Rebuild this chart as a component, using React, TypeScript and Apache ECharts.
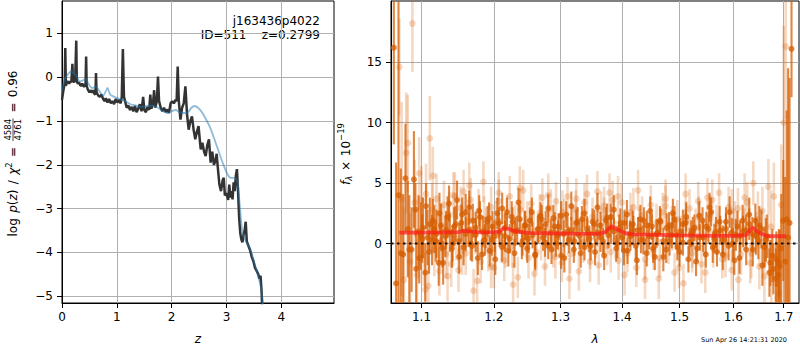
import React, { useEffect, useRef } from 'react';
import * as echarts from 'echarts';

// ---------- left panel: log p(z) ----------
const zDark = [0.00,0.02,0.04,0.05,0.06,0.07,0.09,0.11,0.13,0.15,0.17,0.19,0.20,0.22,0.24,0.26,0.27,0.29,0.31,0.33,0.35,0.37,0.39,0.41,0.43,0.44,0.45,0.47,0.50,0.52,0.55,0.57,0.59,0.61,0.62,0.63,0.66,0.69,0.72,0.75,0.78,0.80,0.83,0.86,0.89,0.92,0.95,0.98,1.01,1.04,1.07,1.09,1.11,1.13,1.15,1.18,1.21,1.24,1.27,1.30,1.33,1.36,1.39,1.42,1.45,1.48,1.50,1.53,1.56,1.59,1.61,1.63,1.66,1.68,1.70,1.73,1.75,1.77,1.80,1.83,1.86,1.89,1.92,1.95,1.98,2.01,2.04,2.07,2.09,2.11,2.13,2.16,2.19,2.22,2.25,2.28,2.31,2.34,2.37,2.40,2.43,2.46,2.49,2.51,2.53,2.56,2.59,2.62,2.65,2.68,2.71,2.74,2.77,2.80,2.82,2.84,2.87,2.90,2.93,2.95,2.97,3.00,3.03,3.05,3.07,3.09,3.11,3.13,3.15,3.17,3.19,3.21,3.23,3.25,3.27,3.29,3.31,3.33,3.35,3.37,3.40,3.43,3.46,3.49,3.52,3.55,3.58,3.60,3.62,3.64,3.66];
const lpDark = [-0.52,-0.35,-0.2,-0.15,0.66,-0.2,-0.12,-0.1,-0.15,-0.1,-0.12,0.30,-0.08,-0.12,-0.05,0.83,-0.1,-0.15,-0.12,-0.18,-0.2,-0.15,-0.2,-0.22,-0.15,0.47,-0.2,-0.28,-0.35,-0.3,-0.35,-0.3,-0.38,-0.4,0.09,-0.35,-0.42,-0.45,-0.4,-0.5,-0.55,-0.48,-0.58,-0.5,-0.6,-0.55,-0.62,-0.5,-0.58,-0.52,-0.6,-0.45,0.64,-0.45,-0.55,-0.7,-0.65,-0.75,-0.68,-0.78,-0.66,-0.8,-0.72,-0.62,-0.78,-0.45,-0.75,-0.8,-0.68,-0.75,-0.4,-0.72,-0.6,-0.3,-0.7,-0.55,0.01,-0.55,-0.7,-0.78,-0.7,-0.8,-0.74,-0.82,-0.6,-0.55,-0.6,-0.52,-0.55,0.24,-0.55,-0.97,-0.7,-0.6,-0.21,-0.85,-1.2,-1.0,-0.9,-1.2,-1.42,-1.25,-1.12,-1.4,-1.65,-1.5,-1.7,-1.8,-1.55,-1.42,-1.95,-1.7,-2.0,-1.9,-1.75,-2.05,-2.45,-2.6,-2.35,-2.3,-2.7,-2.65,-2.8,-2.45,-2.75,-2.6,-2.79,-2.4,-2.6,-2.25,-2.1,-2.6,-3.2,-3.55,-3.7,-3.77,-3.6,-3.5,-3.3,-3.75,-3.85,-3.95,-4.1,-4.2,-4.35,-4.42,-4.5,-4.6,-4.53,-4.9,-5.6];

const zSmooth = [0.00,0.05,0.10,0.17,0.22,0.27,0.32,0.37,0.43,0.48,0.55,0.62,0.68,0.75,0.80,0.83,0.88,0.95,1.05,1.15,1.25,1.35,1.45,1.55,1.65,1.75,1.85,1.92,2.00,2.07,2.14,2.22,2.30,2.36,2.42,2.48,2.55,2.62,2.69,2.76,2.83,2.90,2.96,3.02,3.08,3.15,3.20,3.24,3.28,3.32,3.38,3.44,3.50,3.56,3.62,3.67,3.72];
const lpSmooth = [-0.3,-0.05,0.05,0.13,0.08,0.02,-0.1,-0.08,-0.05,-0.15,-0.25,-0.22,-0.32,-0.42,-0.32,-0.25,-0.4,-0.45,-0.5,-0.55,-0.62,-0.65,-0.68,-0.66,-0.65,-0.7,-0.78,-0.82,-0.78,-0.75,-0.8,-0.82,-0.8,-0.7,-0.66,-0.7,-0.8,-0.95,-1.12,-1.35,-1.6,-1.85,-2.05,-2.22,-2.3,-2.3,-2.4,-2.9,-3.45,-3.65,-3.8,-3.95,-4.2,-4.45,-4.75,-5.2,-5.6];

const zTicks = [0, 1, 2, 3, 4];
const lpTicks = [-5, -4, -3, -2, -1, 0, 1];

// ---------- right panel: spectrum (beam A, dark) ----------
const darkLam = [1.064,1.067,1.070,1.073,1.076,1.079,1.082,1.084,1.087,1.090,1.093,1.096,1.099,1.102,1.105,1.108,1.111,1.114,1.117,1.120,1.123,1.126,1.129,1.132,1.135,1.138,1.141,1.144,1.148,1.151,1.154,1.157,1.160,1.164,1.167,1.170,1.174,1.177,1.180,1.184,1.187,1.191,1.194,1.198,1.201,1.205,1.208,1.212,1.216,1.219,1.223,1.227,1.230,1.234,1.238,1.242,1.245,1.249,1.253,1.257,1.261,1.265,1.269,1.273,1.277,1.281,1.285,1.289,1.293,1.297,1.301,1.305,1.309,1.313,1.317,1.321,1.325,1.330,1.334,1.338,1.342,1.346,1.351,1.355,1.359,1.364,1.368,1.373,1.377,1.381,1.386,1.390,1.395,1.400,1.404,1.409,1.413,1.418,1.423,1.427,1.432,1.437,1.442,1.446,1.451,1.456,1.461,1.466,1.471,1.476,1.481,1.486,1.491,1.496,1.501,1.506,1.511,1.516,1.521,1.527,1.532,1.537,1.542,1.548,1.553,1.558,1.564,1.569,1.575,1.580,1.586,1.591,1.597,1.602,1.608,1.613,1.619,1.625,1.631,1.637,1.643,1.649,1.655,1.661,1.667,1.673,1.679,1.685,1.689,1.692,1.695,1.699,1.703,1.706,1.709,1.712,1.716];
const darkFlux = [16.2,-3.3,4.0,-0.8,-0.9,5.4,1.2,-0.5,-0.5,5.3,-2.1,1.0,0.6,1.3,-2.4,0.5,1.6,0.3,1.2,0.8,-1.6,1.5,-1.6,0.6,2.2,0.9,-0.4,1.4,3.6,0.2,1.7,-0.3,2.6,1.1,0.0,1.9,0.7,-1.2,2.2,1.0,0.3,1.8,-0.6,1.4,0.6,2.5,0.9,-0.3,1.3,2.6,0.4,1.8,-0.8,1.1,2.0,0.2,1.5,-0.4,1.9,0.7,-0.9,1.2,2.3,0.5,1.6,-0.2,0.9,2.1,0.0,1.4,-1.0,0.8,2.4,0.3,1.1,-0.5,1.7,0.6,2.0,-0.3,1.2,0.4,1.8,-0.7,0.9,1.5,0.2,1.9,0.7,2.2,1.0,-0.4,1.3,0.5,1.7,-0.6,0.8,1.6,-0.2,1.1,0.3,1.9,-0.8,0.6,1.4,-1.1,0.9,1.8,0.2,-0.5,1.5,0.7,2.0,-0.3,1.0,0.1,1.7,-1.3,0.8,1.3,-0.4,0.5,1.9,-0.9,1.2,2.6,0.4,-0.7,1.1,0.3,1.8,-0.2,0.9,-1.4,1.4,0.6,1.0,-0.5,1.6,0.8,1.9,0.2,1.2,-0.3,0.6,-1.6,-2.1,-1.3,-2.6,-1.9,-0.4,1.9,-1.5,2.0,0.5,1.7,16.1];
const darkErr = [8,10,16,7,5,4.5,4,4.5,3.5,4,3.2,3,2.8,2.5,2.4,2.3,2.2,2.1,2,2,1.9,1.8,1.8,1.7,1.7,1.6,1.6,1.6,1.6,1.5,1.5,1.5,1.5,1.4,1.4,1.4,1.4,1.4,1.3,1.3,1.3,1.3,1.3,1.3,1.3,1.3,1.2,1.2,1.2,1.2,1.2,1.2,1.2,1.2,1.2,1.2,1.2,1.2,1.1,1.1,1.1,1.1,1.1,1.1,1.1,1.1,1.1,1.1,1.1,1.1,1.1,1.1,1.1,1.1,1.1,1.1,1.1,1.1,1.1,1.1,1.1,1.1,1.1,1.1,1.1,1.1,1.1,1.1,1.1,1.1,1.1,1.1,1.1,1.1,1.1,1.1,1.1,1.1,1.1,1.1,1.1,1.1,1.1,1.1,1.1,1.1,1.1,1.1,1.1,1.1,1.1,1.1,1.1,1.1,1.1,1.1,1.1,1.1,1.1,1.1,1.1,1.1,1.1,1.1,1.2,1.2,1.2,1.2,1.2,1.2,1.2,1.2,1.2,1.2,1.3,1.3,1.3,1.3,1.3,1.4,1.4,1.5,1.6,1.7,1.8,1.9,2.1,2.3,2.6,3,4.5,5,7,9,14,12,4];

// beam B, dark
const dark2Lam = [1.092,1.097,1.101,1.106,1.110,1.115,1.119,1.124,1.128,1.133,1.137,1.142,1.146,1.151,1.155,1.160,1.165,1.169,1.174,1.179,1.183,1.188,1.193,1.197,1.202,1.207,1.212,1.216,1.221,1.226,1.231,1.236,1.241,1.246,1.251,1.256,1.261,1.266,1.271,1.276,1.281,1.286,1.291,1.296,1.301,1.306,1.311,1.317,1.322,1.327,1.332,1.338,1.343,1.348,1.354,1.359,1.364,1.370,1.375,1.381,1.386,1.392,1.397,1.403,1.408,1.414,1.419,1.425,1.431,1.436,1.442,1.448,1.453,1.459,1.465,1.471,1.477,1.482,1.488,1.494,1.500,1.506,1.512,1.518,1.524,1.530,1.536,1.543,1.549,1.555,1.561,1.567,1.574,1.580,1.586,1.593,1.599,1.605,1.612,1.618,1.625,1.631,1.638,1.644,1.651,1.657,1.664,1.671,1.677,1.684,1.690];
const dark2Flux = [2.8,-1.2,0.4,3.1,-0.7,1.9,0.2,2.5,-0.4,1.1,3.3,0.0,1.6,-1.1,2.4,0.8,3.0,-0.2,1.3,2.7,-0.9,0.9,2.1,0.3,-1.3,1.7,2.9,0.6,-0.6,2.2,1.0,3.4,-0.1,1.5,0.4,2.6,-1.0,1.2,2.0,0.1,2.9,-0.5,1.4,0.7,2.3,-1.2,1.0,3.1,0.2,1.8,-0.8,2.5,0.9,-0.2,1.6,3.0,0.5,-1.0,2.1,1.2,2.8,0.0,1.7,-0.6,2.4,0.6,1.1,-1.4,2.0,0.3,1.5,2.7,-0.4,0.8,1.9,-1.1,1.3,0.2,2.5,0.7,-0.7,1.6,2.2,0.1,1.0,-1.5,2.3,0.5,1.4,3.0,-0.3,0.9,1.8,-0.9,1.2,2.6,0.0,0.7,-1.2,1.9,1.1,2.4,-0.5,0.6,1.5,-1.8,0.3,-2.4,-1.0,-2.9,-1.6];
const dark2Err = [2.2,2.1,2.0,1.9,1.8,1.8,1.7,1.7,1.6,1.6,1.5,1.5,1.5,1.4,1.4,1.4,1.4,1.3,1.3,1.3,1.3,1.3,1.3,1.3,1.3,1.3,1.3,1.3,1.3,1.3,1.2,1.2,1.2,1.2,1.2,1.2,1.2,1.2,1.2,1.2,1.2,1.2,1.2,1.2,1.2,1.2,1.2,1.2,1.2,1.2,1.2,1.2,1.2,1.2,1.2,1.2,1.2,1.2,1.2,1.2,1.2,1.2,1.2,1.2,1.2,1.2,1.2,1.2,1.2,1.2,1.2,1.2,1.2,1.2,1.2,1.2,1.2,1.2,1.2,1.2,1.2,1.2,1.2,1.2,1.2,1.2,1.2,1.2,1.2,1.2,1.3,1.3,1.3,1.3,1.3,1.3,1.3,1.3,1.3,1.3,1.3,1.4,1.4,1.5,1.6,1.7,1.8,2.0,2.2,2.5,2.8];

// faint beams
const lightLam = [1.071,1.074,1.077,1.080,1.082,1.085,1.088,1.091,1.094,1.097,1.100,1.103,1.106,1.109,1.111,1.114,1.117,1.120,1.124,1.127,1.130,1.133,1.137,1.140,1.143,1.147,1.150,1.153,1.157,1.160,1.164,1.167,1.171,1.174,1.178,1.181,1.185,1.189,1.192,1.196,1.200,1.203,1.207,1.211,1.215,1.219,1.223,1.227,1.231,1.235,1.239,1.243,1.247,1.251,1.255,1.259,1.263,1.268,1.272,1.276,1.280,1.285,1.289,1.293,1.298,1.302,1.306,1.311,1.315,1.320,1.324,1.329,1.333,1.338,1.342,1.347,1.351,1.356,1.361,1.365,1.370,1.375,1.379,1.384,1.389,1.394,1.399,1.404,1.409,1.414,1.419,1.424,1.429,1.434,1.439,1.444,1.449,1.454,1.459,1.465,1.470,1.475,1.480,1.486,1.491,1.496,1.502,1.507,1.512,1.518,1.523,1.529,1.534,1.540,1.545,1.551,1.556,1.562,1.568,1.573,1.579,1.585,1.591,1.597,1.603,1.609,1.615,1.621,1.627,1.633,1.639,1.645,1.651,1.657,1.663,1.669,1.675,1.680,1.685,1.690,1.695,1.700,1.704];
const lightFlux = [14.6,3.7,-3.0,7.5,8.3,-1.5,18.2,3.4,-2.6,5.8,3.6,-1.0,4.1,-3.5,8.7,2.8,-0.5,3.7,-2.3,1.3,3.2,-0.9,2.4,-1.7,4.0,0.5,-2.2,2.9,4.3,-0.8,1.8,3.6,-3.9,0.9,2.7,-1.5,5.1,1.3,-0.6,3.0,-2.0,1.8,4.2,0.1,-1.4,2.3,3.9,-0.3,1.5,-2.8,2.8,4.4,0.6,-1.2,3.3,1.0,-0.7,2.5,3.8,-1.9,1.2,2.9,-0.4,3.5,0.8,-1.6,2.1,3.9,-0.9,1.6,2.8,-2.3,1.0,3.4,4.1,-0.5,2.2,0.4,-1.8,2.7,3.1,-0.2,4.2,3.6,0.3,-1.4,3.4,1.1,-0.8,2.6,3.0,-2.0,1.4,2.3,-3.0,0.9,3.2,-0.6,1.7,-1.2,2.6,3.7,-0.1,1.5,-2.4,2.0,0.7,-3.3,1.9,2.9,-0.8,1.3,3.5,-1.7,0.5,3.8,2.4,-0.4,1.6,4.2,-1.3,0.2,3.0,-2.2,1.8,2.9,-0.9,1.2,3.4,-1.6,5.0,0.8,-1.9,2.7,0.3,4.7,-2.5,3.9,-3.3,-4.1,3.2,10.0,16.3];
const lightErr = [4,8,6,5,4,4,4,3.5,3,3,2.8,2.5,2.5,2.4,3.5,2.2,2.2,2.1,2,2,2,2,1.9,1.9,1.9,1.9,1.8,1.8,1.8,1.8,1.8,1.8,1.8,1.8,1.8,1.8,1.7,1.7,1.7,1.7,1.7,1.7,1.7,1.7,1.7,1.7,1.7,1.7,1.7,1.7,1.7,1.7,1.7,1.7,1.6,1.6,1.6,1.6,1.6,1.6,1.6,1.6,1.6,1.6,1.6,1.6,1.6,1.6,1.6,1.6,1.6,1.6,1.6,1.6,1.6,1.6,1.6,1.6,1.6,1.6,1.6,1.6,1.6,1.6,1.6,1.6,1.6,1.6,1.6,1.6,1.6,1.6,1.6,1.6,1.6,1.6,1.6,1.6,1.6,1.6,1.6,1.6,1.6,1.6,1.6,1.6,1.6,1.6,1.6,1.6,1.6,1.6,1.6,1.6,1.6,1.6,1.6,1.6,1.6,1.6,1.6,1.7,1.7,1.7,1.7,1.7,1.7,1.7,1.7,1.7,1.8,1.8,1.9,2,2.1,2.3,2.5,2.8,3.5,4,5,8,6];

const light2Lam = [1.105,1.115,1.125,1.135,1.145,1.155,1.165,1.176,1.186,1.196,1.207,1.217,1.228,1.238,1.249,1.260,1.270,1.281,1.292,1.303,1.314,1.325,1.336,1.347,1.359,1.370,1.381,1.393,1.404,1.416,1.427,1.439,1.451,1.463,1.475,1.487,1.499,1.511,1.523,1.535,1.547,1.560,1.572,1.585,1.597,1.610,1.622,1.635,1.648,1.661,1.674,1.687];
const light2Flux = [-3.8,5.6,0.2,-2.7,3.9,-0.6,4.8,-3.1,2.0,-1.9,3.5,-0.2,-3.4,4.6,1.7,-2.5,0.4,4.0,-1.1,2.6,-2.9,3.7,0.1,-1.5,4.3,2.1,-0.7,3.9,-2.6,1.5,4.4,-1.3,0.6,-2.9,3.1,1.1,-2.0,4.1,-0.3,2.2,-2.4,3.6,0.9,-1.0,2.7,-3.0,3.8,-0.8,2.0,-2.7,1.4,-4.5];
const light2Err = [2.6,2.4,2.2,2.1,2.0,2.0,1.9,1.9,1.9,1.8,1.8,1.8,1.8,1.8,1.8,1.8,1.8,1.8,1.8,1.8,1.7,1.7,1.7,1.7,1.7,1.7,1.7,1.7,1.7,1.7,1.7,1.7,1.7,1.7,1.7,1.7,1.7,1.7,1.7,1.7,1.7,1.7,1.7,1.8,1.8,1.9,2.0,2.1,2.3,2.6,3.0,3.8];

const modelLam = [1.071,1.10,1.13,1.15,1.157,1.165,1.18,1.20,1.208,1.215,1.222,1.232,1.25,1.28,1.32,1.36,1.372,1.382,1.392,1.405,1.42,1.46,1.50,1.55,1.60,1.625,1.637,1.648,1.665,1.705];
const modelFlux = [0.90,0.90,0.92,0.95,1.05,1.0,0.93,0.93,1.0,1.28,1.2,1.0,0.88,0.85,0.82,0.80,0.95,1.45,1.15,0.85,0.75,0.72,0.68,0.65,0.63,0.70,1.32,0.95,0.62,0.60];

const lamTicks = [1.1, 1.2, 1.3, 1.4, 1.5, 1.6, 1.7];
const fluxTicks = [0, 5, 10, 15];

const titleLine1 = 'j163436p4022';
const titleLine2 = 'ID=511    z=0.2799';
const stamp = 'Sun Apr 26 14:21:31 2020';

const FONT = 'DejaVu Sans';
const FS = 12;
const SPEC = '#d55e00';

type Piece =
  | { t: string; size: number; italic?: boolean; dy?: number }
  | { gap: number }
  | { num: string; den: string; size: number };

function rotatedLabel(pieces: Piece[], cx: number, cy: number, targetLen?: number) {
  const ctx = document.createElement('canvas').getContext('2d') as CanvasRenderingContext2D;
  const w = (t: string, size: number, italic?: boolean) => {
    ctx.font = `${italic ? 'italic ' : ''}${size}px "${FONT}"`;
    return ctx.measureText(t).width;
  };
  let widths = pieces.map((p: any) => {
    if ('gap' in p) return p.gap;
    if ('num' in p) return Math.max(w(p.num, p.size), w(p.den, p.size)) + 2;
    return w(p.t, p.size, p.italic);
  });
  let total = widths.reduce((a, b) => a + b, 0);
  if (targetLen) {
    const gapIdx = pieces.map((p: any, i) => ('gap' in p ? i : -1)).filter((i) => i >= 0);
    const gapSum = gapIdx.reduce((a, i) => a + widths[i], 0);
    const extra = targetLen - total;
    if (gapSum > 0) {
      widths = widths.map((v, i) => (gapIdx.includes(i) ? Math.max(1, v + (extra * v) / gapSum) : v));
      total = widths.reduce((a, b) => a + b, 0);
    }
  }
  let x = -total / 2;
  const children: any[] = [];
  pieces.forEach((p: any, i) => {
    if ('num' in p) {
      const mid = x + widths[i] / 2;
      children.push({ type: 'text', x: mid, y: -5.2, style: { text: p.num, fontSize: p.size, fontFamily: FONT, fill: '#000', align: 'center', verticalAlign: 'middle' } });
      children.push({ type: 'text', x: mid, y: 5.2, style: { text: p.den, fontSize: p.size, fontFamily: FONT, fill: '#000', align: 'center', verticalAlign: 'middle' } });
      children.push({ type: 'line', shape: { x1: x + 0.5, y1: 0, x2: x + widths[i] - 0.5, y2: 0 }, style: { stroke: '#000', lineWidth: 0.7 } });
    } else if ('t' in p) {
      children.push({ type: 'text', x, y: p.dy || 0, style: { text: p.t, fontSize: p.size, fontFamily: FONT, fontStyle: p.italic ? 'italic' : 'normal', fill: '#000', align: 'left', verticalAlign: 'middle' } });
    }
    x += widths[i];
  });
  return { type: 'group', x: cx, y: cy, rotation: Math.PI / 2, children };
}

const minusFmt = (v: number) => String(v).replace('-', '\u2212');

function errorBars(lam: number[], flux: number[], err: number[], opacity: number, lw: number, r: number) {
  return {
    type: 'custom',
    xAxisIndex: 1,
    yAxisIndex: 1,
    clip: true,
    data: lam.map((l, i) => [l, flux[i], err[i]]),
    renderItem: (params: any, api: any) => {
      const x = api.value(0), y = api.value(1), e = api.value(2);
      const top = api.coord([x, y + e]);
      const bot = api.coord([x, y - e]);
      const c = api.coord([x, y]);
      return {
        type: 'group',
        children: [
          { type: 'line', shape: { x1: top[0], y1: top[1], x2: bot[0], y2: bot[1] }, style: { stroke: SPEC, lineWidth: lw, opacity } },
          { type: 'circle', shape: { cx: c[0], cy: c[1], r }, style: { fill: SPEC, opacity } },
        ],
      };
    },
  };
}

export default function App() {
  const ref = useRef<HTMLDivElement>(null);
  useEffect(() => {
    if (!ref.current) return;
    const chart = echarts.init(ref.current, undefined, { renderer: 'svg' });
    const axisLabel = { color: '#000', fontFamily: FONT, fontSize: FS };
    const splitLine = { show: true, lineStyle: { color: '#b0b0b0', width: 1 } };
    const axisTick = { inside: false, length: 5, lineStyle: { color: '#000', width: 1 } };
    const axisLine = { show: true, onZero: false, lineStyle: { color: '#000', width: 1 } };
    const nameStyle = { fontFamily: FONT, fontSize: FS, fontStyle: 'italic', color: '#000' };
    const option: any = {
      animation: false,
      grid: [
        { left: 62, top: 1, width: 272, height: 303, show: true, borderColor: '#000', borderWidth: 1, backgroundColor: 'transparent' },
        { left: 391, top: 1, width: 408, height: 303, show: true, borderColor: '#000', borderWidth: 1, backgroundColor: 'transparent' },
      ],
      xAxis: [
        {
          gridIndex: 0, type: 'value', min: 0, max: 4.96,
          axisLine, axisTick: { ...axisTick, customValues: zTicks },
          axisLabel: { ...axisLabel, margin: 8, customValues: zTicks, formatter: minusFmt },
          splitLine,
          name: 'z', nameLocation: 'middle', nameGap: 30, nameTextStyle: nameStyle,
        },
        {
          gridIndex: 1, type: 'log', min: 1.0604, max: 1.7315,
          axisLine, axisTick: { ...axisTick, customValues: lamTicks },
          axisLabel: { ...axisLabel, margin: 8, customValues: lamTicks, formatter: (v: number) => v.toFixed(1) },
          splitLine,
          name: '\u03bb', nameLocation: 'middle', nameGap: 30, nameTextStyle: nameStyle,
        },
      ],
      yAxis: [
        {
          gridIndex: 0, type: 'value', min: -5.152, max: 1.734,
          axisLine, axisTick: { ...axisTick, customValues: lpTicks },
          axisLabel: { ...axisLabel, margin: 9, customValues: lpTicks, formatter: minusFmt },
          splitLine,
        },
        {
          gridIndex: 1, type: 'value', min: -4.92, max: 20.06,
          axisLine, axisTick: { ...axisTick, customValues: fluxTicks },
          axisLabel: { ...axisLabel, margin: 9, customValues: fluxTicks, formatter: minusFmt },
          splitLine,
        },
      ],
      series: [
        {
          type: 'line', xAxisIndex: 0, yAxisIndex: 0, symbol: 'none', clip: true,
          data: zDark.map((z, i) => [z, lpDark[i]]),
          lineStyle: { color: '#333333', width: 2.5, opacity: 1 },
        },
        {
          type: 'line', xAxisIndex: 0, yAxisIndex: 0, symbol: 'none', clip: true, smooth: 0.3,
          data: zSmooth.map((z, i) => [z, lpSmooth[i]]),
          lineStyle: { color: '#1f77b4', width: 1.8, opacity: 0.5 },
        },
        errorBars(lightLam, lightFlux, lightErr, 0.24, 2.6, 3.4),
        errorBars(light2Lam, light2Flux, light2Err, 0.24, 2.6, 3.4),
        errorBars(darkLam, darkFlux, darkErr, 0.75, 2.1, 3),
        errorBars(dark2Lam, dark2Flux, dark2Err, 0.75, 2.1, 3),
        {
          type: 'line', xAxisIndex: 1, yAxisIndex: 1, symbol: 'none', clip: true,
          data: modelLam.map((l, i) => [l, modelFlux[i]]),
          lineStyle: { color: '#ff1a1a', width: 3.8, opacity: 0.7 },
        },
        {
          type: 'line', xAxisIndex: 1, yAxisIndex: 1, symbol: 'none', clip: true,
          data: [[1.0604, 0], [1.7315, 0]],
          lineStyle: { color: '#111111', width: 2, type: [2.5, 3.5] },
        },
      ],
      graphic: [
        { type: 'text', x: 320, y: 21, style: { text: titleLine1, fontFamily: FONT, fontSize: FS, fill: '#000', align: 'right', verticalAlign: 'middle' } },
        { type: 'text', x: 320, y: 35, style: { text: titleLine2, fontFamily: FONT, fontSize: FS, fill: '#000', align: 'right', verticalAlign: 'middle' } },
        { type: 'text', x: 787, y: 339.5, style: { text: stamp, fontFamily: FONT, fontSize: 6.5, fill: '#000', align: 'right', verticalAlign: 'middle' } },
        rotatedLabel([
          { t: 'log', size: FS },
          { gap: 4 },
          { t: 'p', size: FS, italic: true },
          { t: '(', size: FS },
          { t: 'z', size: FS, italic: true },
          { t: ')', size: FS },
          { gap: 4 },
          { t: '/', size: FS },
          { gap: 4 },
          { t: '\u03c7', size: FS, italic: true },
          { t: '2', size: 8.5, dy: -4.5 },
          { gap: 4 },
          { t: '=', size: FS },
          { gap: 4 },
          { num: '4584', den: '4761', size: 8.5 },
          { gap: 4 },
          { t: '=', size: FS },
          { gap: 4 },
          { t: '0.96', size: FS },
        ], 13, 153.5, 166),
        rotatedLabel([
          { t: 'f', size: FS, italic: true },
          { t: '\u03bb', size: 8.5, italic: true, dy: 3 },
          { gap: 4 },
          { t: '\u00d7', size: FS },
          { gap: 4 },
          { t: '10', size: FS },
          { t: '\u221219', size: 8.5, dy: -5 },
        ], 346, 154, 62),
      ],
    };
    chart.setOption(option);
    return () => chart.dispose();
  }, []);
  return <div ref={ref} style={{ width: 800, height: 350, position: 'absolute', left: 0, top: 0 }} />;
}
